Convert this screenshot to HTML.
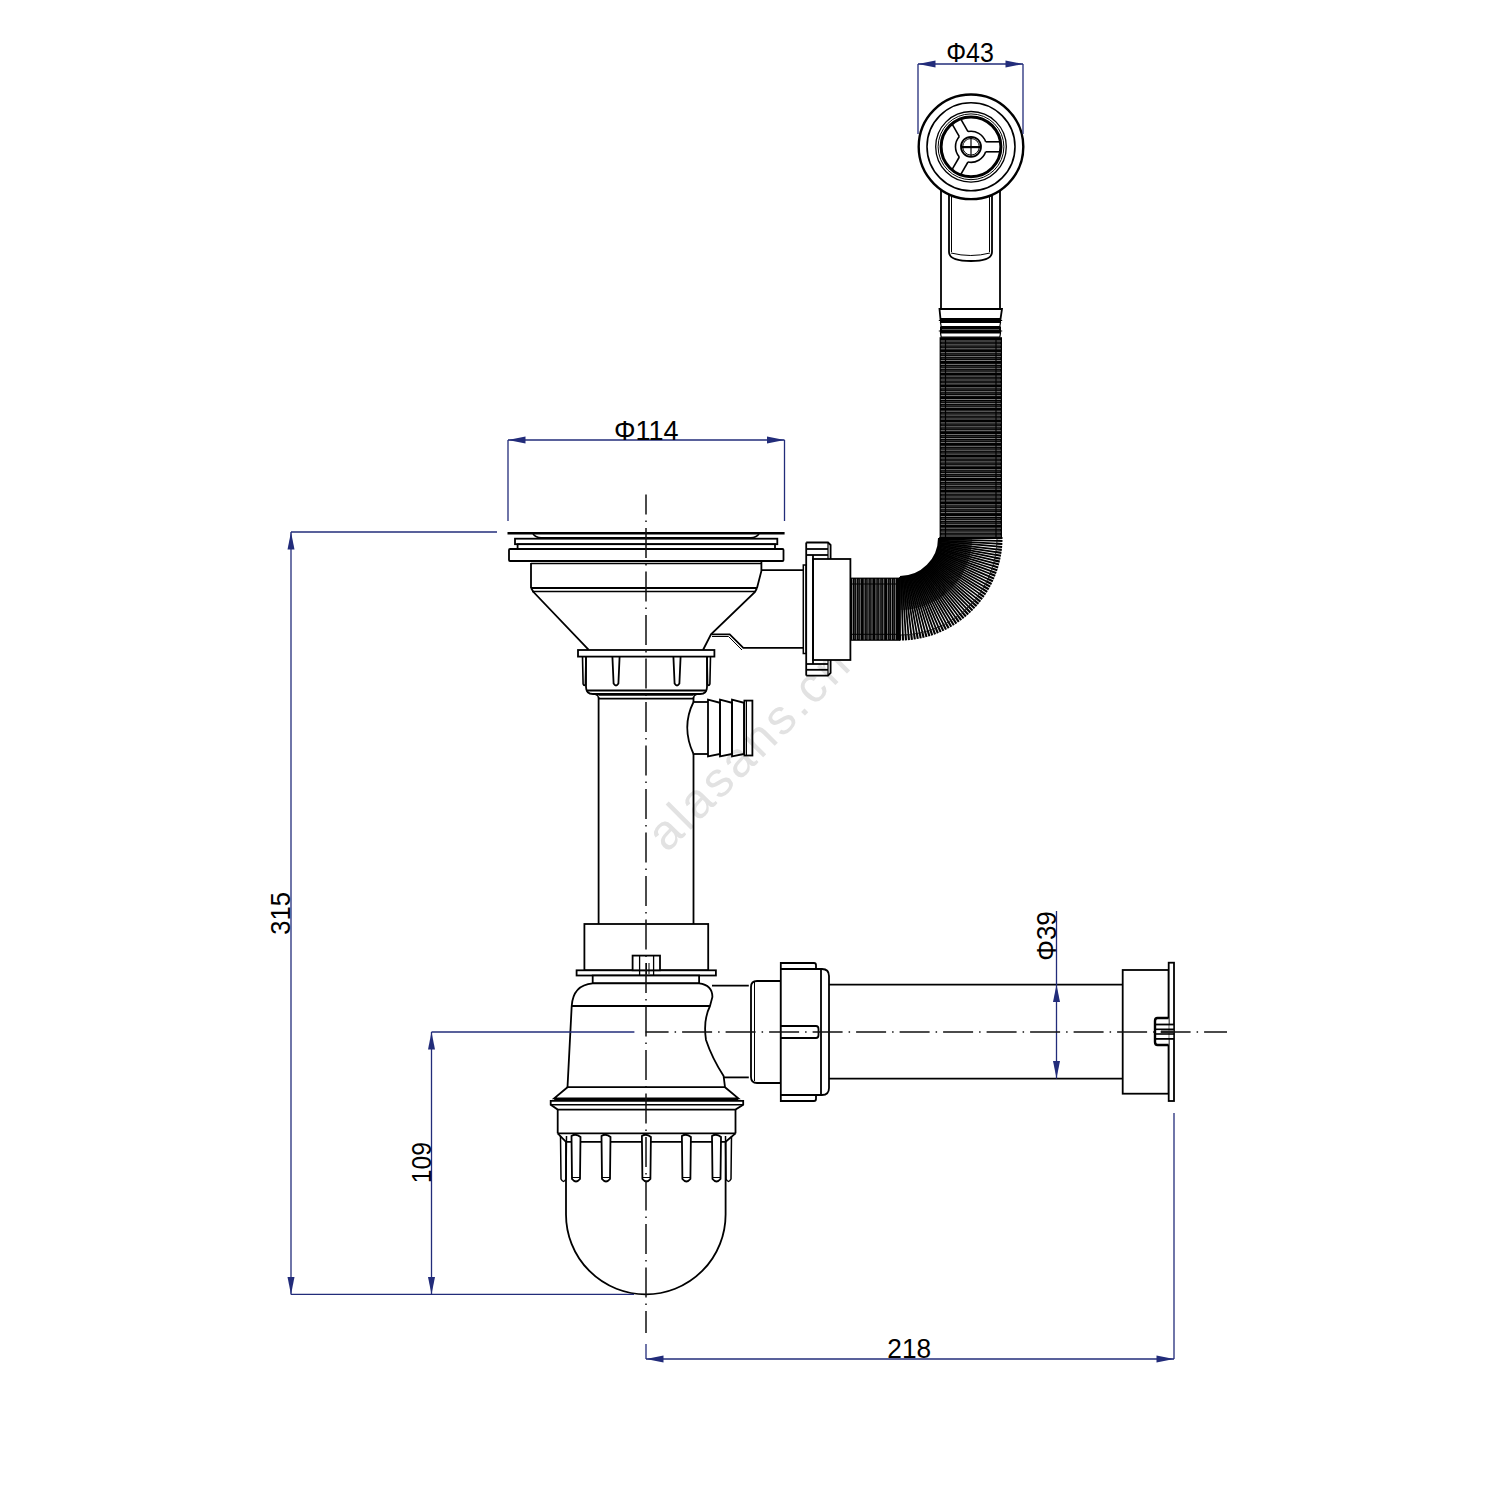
<!DOCTYPE html>
<html><head><meta charset="utf-8"><style>
html,body{margin:0;padding:0;background:#fff;}
svg{display:block;}
text{font-family:"Liberation Sans",sans-serif;}
</style></head><body>
<svg width="1500" height="1500" viewBox="0 0 1500 1500">
<rect width="1500" height="1500" fill="#fff"/>
<text x="0" y="0" font-size="49" fill="#e2e2e2" transform="translate(667,853.5) rotate(-45)" letter-spacing="3.1">alasans.cn</text>
<line x1="941.00" y1="150.00" x2="941.00" y2="309.00" stroke="#000" stroke-width="1.8" />
<line x1="1000.00" y1="150.00" x2="1000.00" y2="309.00" stroke="#000" stroke-width="1.8" />
<path d="M949,190 L949,252 Q949,261 971,261 Q992,261 992,252 L992,190" stroke="#000" stroke-width="1.8" fill="none" />
<line x1="951.50" y1="190.00" x2="951.50" y2="252.00" stroke="#000" stroke-width="1.0" />
<line x1="989.50" y1="190.00" x2="989.50" y2="252.00" stroke="#000" stroke-width="1.0" />
<path d="M951,253 Q971,258 990,253" stroke="#000" stroke-width="1.0" fill="none" />
<circle cx="971" cy="146.8" r="52.3" stroke="#000" stroke-width="2.4" fill="#fff"/>
<circle cx="971" cy="146.8" r="44" stroke="#000" stroke-width="1.6" fill="none"/>
<circle cx="971" cy="146.8" r="35.3" stroke="#000" stroke-width="1.3" fill="none"/>
<circle cx="971" cy="146.8" r="32.9" stroke="#000" stroke-width="1.0" fill="none"/>
<circle cx="971" cy="146.8" r="29.9" stroke="#000" stroke-width="3.0" fill="none"/>
<line x1="985.67" y1="141.80" x2="1000.00" y2="141.80" stroke="#000" stroke-width="1.6" />
<line x1="985.67" y1="151.80" x2="1000.00" y2="151.80" stroke="#000" stroke-width="1.6" />
<line x1="967.99" y1="162.01" x2="960.83" y2="174.41" stroke="#000" stroke-width="1.6" />
<line x1="959.33" y1="157.01" x2="952.17" y2="169.41" stroke="#000" stroke-width="1.6" />
<line x1="959.33" y1="136.59" x2="952.17" y2="124.19" stroke="#000" stroke-width="1.6" />
<line x1="967.99" y1="131.59" x2="960.83" y2="119.19" stroke="#000" stroke-width="1.6" />
<path d="M985.67,151.80 A15.5,15.5 0 0 1 967.99,162.01" stroke="#000" stroke-width="1.6" fill="none" />
<path d="M959.33,157.01 A15.5,15.5 0 0 1 959.33,136.59" stroke="#000" stroke-width="1.6" fill="none" />
<path d="M967.99,131.59 A15.5,15.5 0 0 1 985.67,141.80" stroke="#000" stroke-width="1.6" fill="none" />
<circle cx="971" cy="146.8" r="10" stroke="#000" stroke-width="1.8" fill="none"/>
<circle cx="971" cy="146.8" r="8.3" stroke="#000" stroke-width="1.0" fill="none"/>
<line x1="961.00" y1="147.10" x2="981.00" y2="147.10" stroke="#000" stroke-width="2.2" />
<line x1="971.00" y1="136.80" x2="971.00" y2="156.80" stroke="#000" stroke-width="1.2" />
<path d="M939.5,309 L1002,309 L1000.5,319 L940.5,319 Z" stroke="#000" stroke-width="1.8" fill="none" />
<rect x="940.00" y="319.00" width="61.00" height="3.50" stroke="#000" stroke-width="0" fill="#000" rx="0"/>
<path d="M940.5,322.5 L1000.5,322.5 L999.8,326.5 L941.2,326.5 Z" stroke="#000" stroke-width="1.2" fill="none" />
<rect x="940.00" y="326.50" width="61.00" height="6.50" stroke="#000" stroke-width="0" fill="#000" rx="0"/>
<line x1="942.00" y1="329.60" x2="999.00" y2="329.60" stroke="#888" stroke-width="0.7" />
<path d="M940.5,333 L1000.5,333 L999.8,337.2 L941.2,337.2 Z" stroke="#000" stroke-width="1.2" fill="none" />
<line x1="938.80" y1="320.50" x2="1002.20" y2="320.50" stroke="#000" stroke-width="1.2" />
<line x1="938.80" y1="331.00" x2="1002.20" y2="331.00" stroke="#000" stroke-width="1.2" />
<rect x="939.60" y="337.20" width="62.40" height="200.80" stroke="#000" stroke-width="0" fill="#000" rx="0"/>
<line x1="940.80" y1="341.00" x2="1000.80" y2="341.00" stroke="#e0e0e0" stroke-width="0.55" />
<line x1="941.40" y1="343.00" x2="1000.20" y2="343.00" stroke="#6a6a6a" stroke-width="0.45" />
<line x1="940.80" y1="344.90" x2="1000.80" y2="344.90" stroke="#e0e0e0" stroke-width="0.55" />
<line x1="941.40" y1="346.90" x2="1000.20" y2="346.90" stroke="#6a6a6a" stroke-width="0.45" />
<line x1="940.80" y1="348.80" x2="1000.80" y2="348.80" stroke="#e0e0e0" stroke-width="0.55" />
<line x1="940.80" y1="352.70" x2="1000.80" y2="352.70" stroke="#e0e0e0" stroke-width="0.55" />
<line x1="941.40" y1="354.70" x2="1000.20" y2="354.70" stroke="#6a6a6a" stroke-width="0.45" />
<line x1="940.80" y1="356.60" x2="1000.80" y2="356.60" stroke="#e0e0e0" stroke-width="0.55" />
<line x1="941.40" y1="358.60" x2="1000.20" y2="358.60" stroke="#6a6a6a" stroke-width="0.45" />
<line x1="940.80" y1="360.50" x2="1000.80" y2="360.50" stroke="#e0e0e0" stroke-width="0.55" />
<line x1="940.80" y1="364.40" x2="1000.80" y2="364.40" stroke="#e0e0e0" stroke-width="0.55" />
<line x1="941.40" y1="366.40" x2="1000.20" y2="366.40" stroke="#6a6a6a" stroke-width="0.45" />
<line x1="940.80" y1="368.30" x2="1000.80" y2="368.30" stroke="#e0e0e0" stroke-width="0.55" />
<line x1="941.40" y1="370.30" x2="1000.20" y2="370.30" stroke="#6a6a6a" stroke-width="0.45" />
<line x1="940.80" y1="372.20" x2="1000.80" y2="372.20" stroke="#e0e0e0" stroke-width="0.55" />
<line x1="940.80" y1="376.10" x2="1000.80" y2="376.10" stroke="#e0e0e0" stroke-width="0.55" />
<line x1="941.40" y1="378.10" x2="1000.20" y2="378.10" stroke="#6a6a6a" stroke-width="0.45" />
<line x1="940.80" y1="380.00" x2="1000.80" y2="380.00" stroke="#e0e0e0" stroke-width="0.55" />
<line x1="941.40" y1="382.00" x2="1000.20" y2="382.00" stroke="#6a6a6a" stroke-width="0.45" />
<line x1="940.80" y1="383.90" x2="1000.80" y2="383.90" stroke="#e0e0e0" stroke-width="0.55" />
<line x1="940.80" y1="387.80" x2="1000.80" y2="387.80" stroke="#e0e0e0" stroke-width="0.55" />
<line x1="941.40" y1="389.80" x2="1000.20" y2="389.80" stroke="#6a6a6a" stroke-width="0.45" />
<line x1="940.80" y1="391.70" x2="1000.80" y2="391.70" stroke="#e0e0e0" stroke-width="0.55" />
<line x1="941.40" y1="393.70" x2="1000.20" y2="393.70" stroke="#6a6a6a" stroke-width="0.45" />
<line x1="940.80" y1="395.60" x2="1000.80" y2="395.60" stroke="#e0e0e0" stroke-width="0.55" />
<line x1="940.80" y1="399.50" x2="1000.80" y2="399.50" stroke="#e0e0e0" stroke-width="0.55" />
<line x1="941.40" y1="401.50" x2="1000.20" y2="401.50" stroke="#6a6a6a" stroke-width="0.45" />
<line x1="940.80" y1="403.40" x2="1000.80" y2="403.40" stroke="#e0e0e0" stroke-width="0.55" />
<line x1="941.40" y1="405.40" x2="1000.20" y2="405.40" stroke="#6a6a6a" stroke-width="0.45" />
<line x1="940.80" y1="407.30" x2="1000.80" y2="407.30" stroke="#e0e0e0" stroke-width="0.55" />
<line x1="940.80" y1="411.20" x2="1000.80" y2="411.20" stroke="#e0e0e0" stroke-width="0.55" />
<line x1="941.40" y1="413.20" x2="1000.20" y2="413.20" stroke="#6a6a6a" stroke-width="0.45" />
<line x1="940.80" y1="415.10" x2="1000.80" y2="415.10" stroke="#e0e0e0" stroke-width="0.55" />
<line x1="941.40" y1="417.10" x2="1000.20" y2="417.10" stroke="#6a6a6a" stroke-width="0.45" />
<line x1="940.80" y1="419.00" x2="1000.80" y2="419.00" stroke="#e0e0e0" stroke-width="0.55" />
<line x1="940.80" y1="422.90" x2="1000.80" y2="422.90" stroke="#e0e0e0" stroke-width="0.55" />
<line x1="941.40" y1="424.90" x2="1000.20" y2="424.90" stroke="#6a6a6a" stroke-width="0.45" />
<line x1="940.80" y1="426.80" x2="1000.80" y2="426.80" stroke="#e0e0e0" stroke-width="0.55" />
<line x1="941.40" y1="428.80" x2="1000.20" y2="428.80" stroke="#6a6a6a" stroke-width="0.45" />
<line x1="940.80" y1="430.70" x2="1000.80" y2="430.70" stroke="#e0e0e0" stroke-width="0.55" />
<line x1="940.80" y1="434.60" x2="1000.80" y2="434.60" stroke="#e0e0e0" stroke-width="0.55" />
<line x1="941.40" y1="436.60" x2="1000.20" y2="436.60" stroke="#6a6a6a" stroke-width="0.45" />
<line x1="940.80" y1="438.50" x2="1000.80" y2="438.50" stroke="#e0e0e0" stroke-width="0.55" />
<line x1="941.40" y1="440.50" x2="1000.20" y2="440.50" stroke="#6a6a6a" stroke-width="0.45" />
<line x1="940.80" y1="442.40" x2="1000.80" y2="442.40" stroke="#e0e0e0" stroke-width="0.55" />
<line x1="940.80" y1="446.30" x2="1000.80" y2="446.30" stroke="#e0e0e0" stroke-width="0.55" />
<line x1="941.40" y1="448.30" x2="1000.20" y2="448.30" stroke="#6a6a6a" stroke-width="0.45" />
<line x1="940.80" y1="450.20" x2="1000.80" y2="450.20" stroke="#e0e0e0" stroke-width="0.55" />
<line x1="941.40" y1="452.20" x2="1000.20" y2="452.20" stroke="#6a6a6a" stroke-width="0.45" />
<line x1="940.80" y1="454.10" x2="1000.80" y2="454.10" stroke="#e0e0e0" stroke-width="0.55" />
<line x1="940.80" y1="458.00" x2="1000.80" y2="458.00" stroke="#e0e0e0" stroke-width="0.55" />
<line x1="941.40" y1="460.00" x2="1000.20" y2="460.00" stroke="#6a6a6a" stroke-width="0.45" />
<line x1="940.80" y1="461.90" x2="1000.80" y2="461.90" stroke="#e0e0e0" stroke-width="0.55" />
<line x1="941.40" y1="463.90" x2="1000.20" y2="463.90" stroke="#6a6a6a" stroke-width="0.45" />
<line x1="940.80" y1="465.80" x2="1000.80" y2="465.80" stroke="#e0e0e0" stroke-width="0.55" />
<line x1="940.80" y1="469.70" x2="1000.80" y2="469.70" stroke="#e0e0e0" stroke-width="0.55" />
<line x1="941.40" y1="471.70" x2="1000.20" y2="471.70" stroke="#6a6a6a" stroke-width="0.45" />
<line x1="940.80" y1="473.60" x2="1000.80" y2="473.60" stroke="#e0e0e0" stroke-width="0.55" />
<line x1="941.40" y1="475.60" x2="1000.20" y2="475.60" stroke="#6a6a6a" stroke-width="0.45" />
<line x1="940.80" y1="477.50" x2="1000.80" y2="477.50" stroke="#e0e0e0" stroke-width="0.55" />
<line x1="940.80" y1="481.40" x2="1000.80" y2="481.40" stroke="#e0e0e0" stroke-width="0.55" />
<line x1="941.40" y1="483.40" x2="1000.20" y2="483.40" stroke="#6a6a6a" stroke-width="0.45" />
<line x1="940.80" y1="485.30" x2="1000.80" y2="485.30" stroke="#e0e0e0" stroke-width="0.55" />
<line x1="941.40" y1="487.30" x2="1000.20" y2="487.30" stroke="#6a6a6a" stroke-width="0.45" />
<line x1="940.80" y1="489.20" x2="1000.80" y2="489.20" stroke="#e0e0e0" stroke-width="0.55" />
<line x1="940.80" y1="493.10" x2="1000.80" y2="493.10" stroke="#e0e0e0" stroke-width="0.55" />
<line x1="941.40" y1="495.10" x2="1000.20" y2="495.10" stroke="#6a6a6a" stroke-width="0.45" />
<line x1="940.80" y1="497.00" x2="1000.80" y2="497.00" stroke="#e0e0e0" stroke-width="0.55" />
<line x1="941.40" y1="499.00" x2="1000.20" y2="499.00" stroke="#6a6a6a" stroke-width="0.45" />
<line x1="940.80" y1="500.90" x2="1000.80" y2="500.90" stroke="#e0e0e0" stroke-width="0.55" />
<line x1="940.80" y1="504.80" x2="1000.80" y2="504.80" stroke="#e0e0e0" stroke-width="0.55" />
<line x1="941.40" y1="506.80" x2="1000.20" y2="506.80" stroke="#6a6a6a" stroke-width="0.45" />
<line x1="940.80" y1="508.70" x2="1000.80" y2="508.70" stroke="#e0e0e0" stroke-width="0.55" />
<line x1="941.40" y1="510.70" x2="1000.20" y2="510.70" stroke="#6a6a6a" stroke-width="0.45" />
<line x1="940.80" y1="512.60" x2="1000.80" y2="512.60" stroke="#e0e0e0" stroke-width="0.55" />
<line x1="940.80" y1="516.50" x2="1000.80" y2="516.50" stroke="#e0e0e0" stroke-width="0.55" />
<line x1="941.40" y1="518.50" x2="1000.20" y2="518.50" stroke="#6a6a6a" stroke-width="0.45" />
<line x1="940.80" y1="520.40" x2="1000.80" y2="520.40" stroke="#e0e0e0" stroke-width="0.55" />
<line x1="941.40" y1="522.40" x2="1000.20" y2="522.40" stroke="#6a6a6a" stroke-width="0.45" />
<line x1="940.80" y1="524.30" x2="1000.80" y2="524.30" stroke="#e0e0e0" stroke-width="0.55" />
<line x1="940.80" y1="528.20" x2="1000.80" y2="528.20" stroke="#e0e0e0" stroke-width="0.55" />
<line x1="941.40" y1="530.20" x2="1000.20" y2="530.20" stroke="#6a6a6a" stroke-width="0.45" />
<line x1="940.80" y1="532.10" x2="1000.80" y2="532.10" stroke="#e0e0e0" stroke-width="0.55" />
<line x1="941.40" y1="534.10" x2="1000.20" y2="534.10" stroke="#6a6a6a" stroke-width="0.45" />
<line x1="940.80" y1="536.00" x2="1000.80" y2="536.00" stroke="#e0e0e0" stroke-width="0.55" />
<line x1="945.50" y1="338.00" x2="945.50" y2="538.00" stroke="#000" stroke-width="1.2" />
<line x1="996.00" y1="338.00" x2="996.00" y2="538.00" stroke="#000" stroke-width="1.2" />
<line x1="939.00" y1="538.00" x2="997.00" y2="538.00" stroke="#000" stroke-width="1.75"/>
<line x1="997.00" y1="538.00" x2="1002.50" y2="538.00" stroke="#000" stroke-width="2.1"/>
<line x1="939.00" y1="538.57" x2="971.99" y2="539.05" stroke="#000" stroke-width="0.8"/>
<line x1="938.98" y1="539.13" x2="996.96" y2="540.82" stroke="#000" stroke-width="1.75"/>
<line x1="996.96" y1="540.82" x2="1002.46" y2="540.98" stroke="#000" stroke-width="2.1"/>
<line x1="938.96" y1="539.70" x2="971.93" y2="541.14" stroke="#000" stroke-width="0.8"/>
<line x1="938.93" y1="540.27" x2="996.84" y2="543.64" stroke="#000" stroke-width="1.75"/>
<line x1="996.84" y1="543.64" x2="1002.33" y2="543.96" stroke="#000" stroke-width="2.1"/>
<line x1="938.90" y1="540.83" x2="971.81" y2="543.23" stroke="#000" stroke-width="0.8"/>
<line x1="938.85" y1="541.40" x2="996.63" y2="546.45" stroke="#000" stroke-width="1.75"/>
<line x1="996.63" y1="546.45" x2="1002.11" y2="546.93" stroke="#000" stroke-width="2.1"/>
<line x1="938.80" y1="541.96" x2="971.63" y2="545.32" stroke="#000" stroke-width="0.8"/>
<line x1="938.74" y1="542.53" x2="996.34" y2="549.26" stroke="#000" stroke-width="1.75"/>
<line x1="996.34" y1="549.26" x2="1001.81" y2="549.90" stroke="#000" stroke-width="2.1"/>
<line x1="938.67" y1="543.09" x2="971.38" y2="547.40" stroke="#000" stroke-width="0.8"/>
<line x1="938.59" y1="543.65" x2="995.98" y2="552.06" stroke="#000" stroke-width="1.75"/>
<line x1="995.98" y1="552.06" x2="1001.42" y2="552.86" stroke="#000" stroke-width="2.1"/>
<line x1="938.50" y1="544.21" x2="971.08" y2="549.47" stroke="#000" stroke-width="0.8"/>
<line x1="938.41" y1="544.77" x2="995.53" y2="554.84" stroke="#000" stroke-width="1.75"/>
<line x1="995.53" y1="554.84" x2="1000.94" y2="555.80" stroke="#000" stroke-width="2.1"/>
<line x1="938.30" y1="545.33" x2="970.72" y2="551.53" stroke="#000" stroke-width="0.8"/>
<line x1="938.19" y1="545.89" x2="995.00" y2="557.62" stroke="#000" stroke-width="1.75"/>
<line x1="995.00" y1="557.62" x2="1000.38" y2="558.73" stroke="#000" stroke-width="2.1"/>
<line x1="938.08" y1="546.44" x2="970.29" y2="553.58" stroke="#000" stroke-width="0.8"/>
<line x1="937.95" y1="546.99" x2="994.39" y2="560.37" stroke="#000" stroke-width="1.75"/>
<line x1="994.39" y1="560.37" x2="999.74" y2="561.64" stroke="#000" stroke-width="2.1"/>
<line x1="937.81" y1="547.54" x2="969.81" y2="555.62" stroke="#000" stroke-width="0.8"/>
<line x1="937.67" y1="548.09" x2="993.69" y2="563.11" stroke="#000" stroke-width="1.75"/>
<line x1="993.69" y1="563.11" x2="999.01" y2="564.53" stroke="#000" stroke-width="2.1"/>
<line x1="937.52" y1="548.64" x2="969.27" y2="557.64" stroke="#000" stroke-width="0.8"/>
<line x1="937.36" y1="549.19" x2="992.92" y2="565.82" stroke="#000" stroke-width="1.75"/>
<line x1="992.92" y1="565.82" x2="998.19" y2="567.40" stroke="#000" stroke-width="2.1"/>
<line x1="937.19" y1="549.73" x2="968.67" y2="559.65" stroke="#000" stroke-width="0.8"/>
<line x1="937.02" y1="550.27" x2="992.08" y2="568.51" stroke="#000" stroke-width="1.75"/>
<line x1="992.08" y1="568.51" x2="997.30" y2="570.24" stroke="#000" stroke-width="2.1"/>
<line x1="936.84" y1="550.80" x2="968.01" y2="561.64" stroke="#000" stroke-width="0.8"/>
<line x1="936.65" y1="551.34" x2="991.15" y2="571.18" stroke="#000" stroke-width="1.75"/>
<line x1="991.15" y1="571.18" x2="996.32" y2="573.06" stroke="#000" stroke-width="2.1"/>
<line x1="936.45" y1="551.87" x2="967.29" y2="563.61" stroke="#000" stroke-width="0.8"/>
<line x1="936.24" y1="552.40" x2="990.15" y2="573.81" stroke="#000" stroke-width="1.75"/>
<line x1="990.15" y1="573.81" x2="995.26" y2="575.84" stroke="#000" stroke-width="2.1"/>
<line x1="936.03" y1="552.92" x2="966.52" y2="565.55" stroke="#000" stroke-width="0.8"/>
<line x1="935.81" y1="553.45" x2="989.07" y2="576.42" stroke="#000" stroke-width="1.75"/>
<line x1="989.07" y1="576.42" x2="994.12" y2="578.60" stroke="#000" stroke-width="2.1"/>
<line x1="935.58" y1="553.97" x2="965.69" y2="567.48" stroke="#000" stroke-width="0.8"/>
<line x1="935.35" y1="554.48" x2="987.91" y2="578.99" stroke="#000" stroke-width="1.75"/>
<line x1="987.91" y1="578.99" x2="992.90" y2="581.32" stroke="#000" stroke-width="2.1"/>
<line x1="935.10" y1="554.99" x2="964.80" y2="569.37" stroke="#000" stroke-width="0.8"/>
<line x1="934.85" y1="555.50" x2="986.68" y2="581.53" stroke="#000" stroke-width="1.75"/>
<line x1="986.68" y1="581.53" x2="991.60" y2="584.00" stroke="#000" stroke-width="2.1"/>
<line x1="934.59" y1="556.01" x2="963.86" y2="571.25" stroke="#000" stroke-width="0.8"/>
<line x1="934.33" y1="556.51" x2="985.38" y2="584.04" stroke="#000" stroke-width="1.75"/>
<line x1="985.38" y1="584.04" x2="990.22" y2="586.65" stroke="#000" stroke-width="2.1"/>
<line x1="934.06" y1="557.01" x2="962.87" y2="573.09" stroke="#000" stroke-width="0.8"/>
<line x1="933.77" y1="557.50" x2="984.00" y2="586.50" stroke="#000" stroke-width="1.75"/>
<line x1="984.00" y1="586.50" x2="988.77" y2="589.25" stroke="#000" stroke-width="2.1"/>
<line x1="933.49" y1="557.99" x2="961.82" y2="574.90" stroke="#000" stroke-width="0.8"/>
<line x1="933.19" y1="558.47" x2="982.56" y2="588.92" stroke="#000" stroke-width="1.75"/>
<line x1="982.56" y1="588.92" x2="987.24" y2="591.81" stroke="#000" stroke-width="2.1"/>
<line x1="932.89" y1="558.95" x2="960.72" y2="576.69" stroke="#000" stroke-width="0.8"/>
<line x1="932.58" y1="559.43" x2="981.04" y2="591.30" stroke="#000" stroke-width="1.75"/>
<line x1="981.04" y1="591.30" x2="985.64" y2="594.32" stroke="#000" stroke-width="2.1"/>
<line x1="932.27" y1="559.90" x2="959.57" y2="578.44" stroke="#000" stroke-width="0.8"/>
<line x1="931.95" y1="560.37" x2="979.46" y2="593.64" stroke="#000" stroke-width="1.75"/>
<line x1="979.46" y1="593.64" x2="983.96" y2="596.79" stroke="#000" stroke-width="2.1"/>
<line x1="931.62" y1="560.83" x2="958.37" y2="580.15" stroke="#000" stroke-width="0.8"/>
<line x1="931.28" y1="561.29" x2="977.81" y2="595.92" stroke="#000" stroke-width="1.75"/>
<line x1="977.81" y1="595.92" x2="982.22" y2="599.21" stroke="#000" stroke-width="2.1"/>
<line x1="930.94" y1="561.74" x2="957.12" y2="581.83" stroke="#000" stroke-width="0.8"/>
<line x1="930.59" y1="562.19" x2="976.09" y2="598.16" stroke="#000" stroke-width="1.75"/>
<line x1="976.09" y1="598.16" x2="980.40" y2="601.57" stroke="#000" stroke-width="2.1"/>
<line x1="930.24" y1="562.63" x2="955.82" y2="583.47" stroke="#000" stroke-width="0.8"/>
<line x1="929.88" y1="563.07" x2="974.31" y2="600.35" stroke="#000" stroke-width="1.75"/>
<line x1="974.31" y1="600.35" x2="978.52" y2="603.89" stroke="#000" stroke-width="2.1"/>
<line x1="929.51" y1="563.50" x2="954.48" y2="585.08" stroke="#000" stroke-width="0.8"/>
<line x1="929.13" y1="563.93" x2="972.46" y2="602.49" stroke="#000" stroke-width="1.75"/>
<line x1="972.46" y1="602.49" x2="976.57" y2="606.14" stroke="#000" stroke-width="2.1"/>
<line x1="928.75" y1="564.35" x2="953.08" y2="586.64" stroke="#000" stroke-width="0.8"/>
<line x1="928.37" y1="564.76" x2="970.56" y2="604.57" stroke="#000" stroke-width="1.75"/>
<line x1="970.56" y1="604.57" x2="974.56" y2="608.34" stroke="#000" stroke-width="2.1"/>
<line x1="927.98" y1="565.17" x2="951.65" y2="588.17" stroke="#000" stroke-width="0.8"/>
<line x1="927.58" y1="565.58" x2="968.59" y2="606.59" stroke="#000" stroke-width="1.75"/>
<line x1="968.59" y1="606.59" x2="972.48" y2="610.48" stroke="#000" stroke-width="2.1"/>
<line x1="927.17" y1="565.98" x2="950.17" y2="589.65" stroke="#000" stroke-width="0.8"/>
<line x1="926.76" y1="566.37" x2="966.57" y2="608.56" stroke="#000" stroke-width="1.75"/>
<line x1="966.57" y1="608.56" x2="970.34" y2="612.56" stroke="#000" stroke-width="2.1"/>
<line x1="926.35" y1="566.75" x2="948.64" y2="591.08" stroke="#000" stroke-width="0.8"/>
<line x1="925.93" y1="567.13" x2="964.49" y2="610.46" stroke="#000" stroke-width="1.75"/>
<line x1="964.49" y1="610.46" x2="968.14" y2="614.57" stroke="#000" stroke-width="2.1"/>
<line x1="925.50" y1="567.51" x2="947.08" y2="592.48" stroke="#000" stroke-width="0.8"/>
<line x1="925.07" y1="567.88" x2="962.35" y2="612.31" stroke="#000" stroke-width="1.75"/>
<line x1="962.35" y1="612.31" x2="965.89" y2="616.52" stroke="#000" stroke-width="2.1"/>
<line x1="924.63" y1="568.24" x2="945.47" y2="593.82" stroke="#000" stroke-width="0.8"/>
<line x1="924.19" y1="568.59" x2="960.16" y2="614.09" stroke="#000" stroke-width="1.75"/>
<line x1="960.16" y1="614.09" x2="963.57" y2="618.40" stroke="#000" stroke-width="2.1"/>
<line x1="923.74" y1="568.94" x2="943.83" y2="595.12" stroke="#000" stroke-width="0.8"/>
<line x1="923.29" y1="569.28" x2="957.92" y2="615.81" stroke="#000" stroke-width="1.75"/>
<line x1="957.92" y1="615.81" x2="961.21" y2="620.22" stroke="#000" stroke-width="2.1"/>
<line x1="922.83" y1="569.62" x2="942.15" y2="596.37" stroke="#000" stroke-width="0.8"/>
<line x1="922.37" y1="569.95" x2="955.64" y2="617.46" stroke="#000" stroke-width="1.75"/>
<line x1="955.64" y1="617.46" x2="958.79" y2="621.96" stroke="#000" stroke-width="2.1"/>
<line x1="921.90" y1="570.27" x2="940.44" y2="597.57" stroke="#000" stroke-width="0.8"/>
<line x1="921.43" y1="570.58" x2="953.30" y2="619.04" stroke="#000" stroke-width="1.75"/>
<line x1="953.30" y1="619.04" x2="956.32" y2="623.64" stroke="#000" stroke-width="2.1"/>
<line x1="920.95" y1="570.89" x2="938.69" y2="598.72" stroke="#000" stroke-width="0.8"/>
<line x1="920.47" y1="571.19" x2="950.92" y2="620.56" stroke="#000" stroke-width="1.75"/>
<line x1="950.92" y1="620.56" x2="953.81" y2="625.24" stroke="#000" stroke-width="2.1"/>
<line x1="919.99" y1="571.49" x2="936.90" y2="599.82" stroke="#000" stroke-width="0.8"/>
<line x1="919.50" y1="571.77" x2="948.50" y2="622.00" stroke="#000" stroke-width="1.75"/>
<line x1="948.50" y1="622.00" x2="951.25" y2="626.77" stroke="#000" stroke-width="2.1"/>
<line x1="919.01" y1="572.06" x2="935.09" y2="600.87" stroke="#000" stroke-width="0.8"/>
<line x1="918.51" y1="572.33" x2="946.04" y2="623.38" stroke="#000" stroke-width="1.75"/>
<line x1="946.04" y1="623.38" x2="948.65" y2="628.22" stroke="#000" stroke-width="2.1"/>
<line x1="918.01" y1="572.59" x2="933.25" y2="601.86" stroke="#000" stroke-width="0.8"/>
<line x1="917.50" y1="572.85" x2="943.53" y2="624.68" stroke="#000" stroke-width="1.75"/>
<line x1="943.53" y1="624.68" x2="946.00" y2="629.60" stroke="#000" stroke-width="2.1"/>
<line x1="916.99" y1="573.10" x2="931.37" y2="602.80" stroke="#000" stroke-width="0.8"/>
<line x1="916.48" y1="573.35" x2="940.99" y2="625.91" stroke="#000" stroke-width="1.75"/>
<line x1="940.99" y1="625.91" x2="943.32" y2="630.90" stroke="#000" stroke-width="2.1"/>
<line x1="915.97" y1="573.58" x2="929.48" y2="603.69" stroke="#000" stroke-width="0.8"/>
<line x1="915.45" y1="573.81" x2="938.42" y2="627.07" stroke="#000" stroke-width="1.75"/>
<line x1="938.42" y1="627.07" x2="940.60" y2="632.12" stroke="#000" stroke-width="2.1"/>
<line x1="914.92" y1="574.03" x2="927.55" y2="604.52" stroke="#000" stroke-width="0.8"/>
<line x1="914.40" y1="574.24" x2="935.81" y2="628.15" stroke="#000" stroke-width="1.75"/>
<line x1="935.81" y1="628.15" x2="937.84" y2="633.26" stroke="#000" stroke-width="2.1"/>
<line x1="913.87" y1="574.45" x2="925.61" y2="605.29" stroke="#000" stroke-width="0.8"/>
<line x1="913.34" y1="574.65" x2="933.18" y2="629.15" stroke="#000" stroke-width="1.75"/>
<line x1="933.18" y1="629.15" x2="935.06" y2="634.32" stroke="#000" stroke-width="2.1"/>
<line x1="912.80" y1="574.84" x2="923.64" y2="606.01" stroke="#000" stroke-width="0.8"/>
<line x1="912.27" y1="575.02" x2="930.51" y2="630.08" stroke="#000" stroke-width="1.75"/>
<line x1="930.51" y1="630.08" x2="932.24" y2="635.30" stroke="#000" stroke-width="2.1"/>
<line x1="911.73" y1="575.19" x2="921.65" y2="606.67" stroke="#000" stroke-width="0.8"/>
<line x1="911.19" y1="575.36" x2="927.82" y2="630.92" stroke="#000" stroke-width="1.75"/>
<line x1="927.82" y1="630.92" x2="929.40" y2="636.19" stroke="#000" stroke-width="2.1"/>
<line x1="910.64" y1="575.52" x2="919.64" y2="607.27" stroke="#000" stroke-width="0.8"/>
<line x1="910.09" y1="575.67" x2="925.11" y2="631.69" stroke="#000" stroke-width="1.75"/>
<line x1="925.11" y1="631.69" x2="926.53" y2="637.01" stroke="#000" stroke-width="2.1"/>
<line x1="909.54" y1="575.81" x2="917.62" y2="607.81" stroke="#000" stroke-width="0.8"/>
<line x1="908.99" y1="575.95" x2="922.37" y2="632.39" stroke="#000" stroke-width="1.75"/>
<line x1="922.37" y1="632.39" x2="923.64" y2="637.74" stroke="#000" stroke-width="2.1"/>
<line x1="908.44" y1="576.08" x2="915.58" y2="608.29" stroke="#000" stroke-width="0.8"/>
<line x1="907.89" y1="576.19" x2="919.62" y2="633.00" stroke="#000" stroke-width="1.75"/>
<line x1="919.62" y1="633.00" x2="920.73" y2="638.38" stroke="#000" stroke-width="2.1"/>
<line x1="907.33" y1="576.30" x2="913.53" y2="608.72" stroke="#000" stroke-width="0.8"/>
<line x1="906.77" y1="576.41" x2="916.84" y2="633.53" stroke="#000" stroke-width="1.75"/>
<line x1="916.84" y1="633.53" x2="917.80" y2="638.94" stroke="#000" stroke-width="2.1"/>
<line x1="906.21" y1="576.50" x2="911.47" y2="609.08" stroke="#000" stroke-width="0.8"/>
<line x1="905.65" y1="576.59" x2="914.06" y2="633.98" stroke="#000" stroke-width="1.75"/>
<line x1="914.06" y1="633.98" x2="914.86" y2="639.42" stroke="#000" stroke-width="2.1"/>
<line x1="905.09" y1="576.67" x2="909.40" y2="609.38" stroke="#000" stroke-width="0.8"/>
<line x1="904.53" y1="576.74" x2="911.26" y2="634.34" stroke="#000" stroke-width="1.75"/>
<line x1="911.26" y1="634.34" x2="911.90" y2="639.81" stroke="#000" stroke-width="2.1"/>
<line x1="903.96" y1="576.80" x2="907.32" y2="609.63" stroke="#000" stroke-width="0.8"/>
<line x1="903.40" y1="576.85" x2="908.45" y2="634.63" stroke="#000" stroke-width="1.75"/>
<line x1="908.45" y1="634.63" x2="908.93" y2="640.11" stroke="#000" stroke-width="2.1"/>
<line x1="902.83" y1="576.90" x2="905.23" y2="609.81" stroke="#000" stroke-width="0.8"/>
<line x1="902.27" y1="576.93" x2="905.64" y2="634.84" stroke="#000" stroke-width="1.75"/>
<line x1="905.64" y1="634.84" x2="905.96" y2="640.33" stroke="#000" stroke-width="2.1"/>
<line x1="901.70" y1="576.96" x2="903.14" y2="609.93" stroke="#000" stroke-width="0.8"/>
<line x1="901.13" y1="576.98" x2="902.82" y2="634.96" stroke="#000" stroke-width="1.75"/>
<line x1="902.82" y1="634.96" x2="902.98" y2="640.46" stroke="#000" stroke-width="2.1"/>
<line x1="900.57" y1="577.00" x2="901.05" y2="609.99" stroke="#000" stroke-width="0.8"/>
<line x1="900.00" y1="577.00" x2="900.00" y2="635.00" stroke="#000" stroke-width="1.75"/>
<line x1="900.00" y1="635.00" x2="900.00" y2="640.50" stroke="#000" stroke-width="2.1"/>
<path d="M900,577 A39,39 0 0 0 939,538" stroke="#000" stroke-width="2.0" fill="none" />
<path d="M997,538 A97,97 0 0 1 900,635" stroke="#000" stroke-width="0.8" fill="none" />
<rect x="850.00" y="577.60" width="50.00" height="63.20" stroke="#000" stroke-width="0" fill="#000" rx="0"/>
<line x1="852.50" y1="578.80" x2="852.50" y2="639.60" stroke="#e0e0e0" stroke-width="0.55" />
<line x1="854.50" y1="579.30" x2="854.50" y2="639.10" stroke="#6a6a6a" stroke-width="0.45" />
<line x1="856.40" y1="578.80" x2="856.40" y2="639.60" stroke="#e0e0e0" stroke-width="0.55" />
<line x1="858.40" y1="579.30" x2="858.40" y2="639.10" stroke="#6a6a6a" stroke-width="0.45" />
<line x1="860.30" y1="578.80" x2="860.30" y2="639.60" stroke="#e0e0e0" stroke-width="0.55" />
<line x1="864.20" y1="578.80" x2="864.20" y2="639.60" stroke="#e0e0e0" stroke-width="0.55" />
<line x1="866.20" y1="579.30" x2="866.20" y2="639.10" stroke="#6a6a6a" stroke-width="0.45" />
<line x1="868.10" y1="578.80" x2="868.10" y2="639.60" stroke="#e0e0e0" stroke-width="0.55" />
<line x1="870.10" y1="579.30" x2="870.10" y2="639.10" stroke="#6a6a6a" stroke-width="0.45" />
<line x1="872.00" y1="578.80" x2="872.00" y2="639.60" stroke="#e0e0e0" stroke-width="0.55" />
<line x1="875.90" y1="578.80" x2="875.90" y2="639.60" stroke="#e0e0e0" stroke-width="0.55" />
<line x1="877.90" y1="579.30" x2="877.90" y2="639.10" stroke="#6a6a6a" stroke-width="0.45" />
<line x1="879.80" y1="578.80" x2="879.80" y2="639.60" stroke="#e0e0e0" stroke-width="0.55" />
<line x1="881.80" y1="579.30" x2="881.80" y2="639.10" stroke="#6a6a6a" stroke-width="0.45" />
<line x1="883.70" y1="578.80" x2="883.70" y2="639.60" stroke="#e0e0e0" stroke-width="0.55" />
<line x1="887.60" y1="578.80" x2="887.60" y2="639.60" stroke="#e0e0e0" stroke-width="0.55" />
<line x1="889.60" y1="579.30" x2="889.60" y2="639.10" stroke="#6a6a6a" stroke-width="0.45" />
<line x1="891.50" y1="578.80" x2="891.50" y2="639.60" stroke="#e0e0e0" stroke-width="0.55" />
<line x1="893.50" y1="579.30" x2="893.50" y2="639.10" stroke="#6a6a6a" stroke-width="0.45" />
<line x1="895.40" y1="578.80" x2="895.40" y2="639.60" stroke="#e0e0e0" stroke-width="0.55" />
<line x1="850.00" y1="584.00" x2="900.00" y2="584.00" stroke="#000" stroke-width="1.0" />
<line x1="850.00" y1="634.30" x2="900.00" y2="634.30" stroke="#000" stroke-width="1.0" />
<rect x="813.00" y="559.00" width="37.40" height="101.00" stroke="#000" stroke-width="1.8" fill="#fff" rx="0"/>
<path d="M806.2,542.5 L828,542.5 L830.6,545 L830.6,559" stroke="#000" stroke-width="1.8" fill="none" />
<line x1="806.20" y1="549.00" x2="828.00" y2="549.00" stroke="#000" stroke-width="1.8" />
<line x1="806.20" y1="555.00" x2="828.00" y2="555.00" stroke="#000" stroke-width="1.8" />
<line x1="806.20" y1="542.50" x2="806.20" y2="675.60" stroke="#000" stroke-width="1.8" />
<line x1="813.00" y1="555.00" x2="813.00" y2="664.00" stroke="#000" stroke-width="1.8" />
<line x1="828.00" y1="542.50" x2="828.00" y2="559.00" stroke="#000" stroke-width="1.2" />
<path d="M806.2,675.6 L828,675.6 L830.6,673 L830.6,660" stroke="#000" stroke-width="1.8" fill="none" />
<line x1="806.20" y1="664.00" x2="828.00" y2="664.00" stroke="#000" stroke-width="1.8" />
<line x1="806.20" y1="669.80" x2="828.00" y2="669.80" stroke="#000" stroke-width="1.8" />
<line x1="828.00" y1="660.00" x2="828.00" y2="675.60" stroke="#000" stroke-width="1.2" />
<rect x="803.30" y="565.00" width="2.90" height="88.50" stroke="#000" stroke-width="1.5" fill="none" rx="0"/>
<line x1="761.40" y1="570.20" x2="803.30" y2="570.20" stroke="#000" stroke-width="1.8" />
<path d="M712,634.3 L729.7,634.3 L743.3,647.9 L803.3,647.9" stroke="#000" stroke-width="1.8" fill="none" />
<path d="M712,636.5 L728.5,636.5 L742,650" stroke="#000" stroke-width="1.0" fill="none" />
<line x1="507.50" y1="533.30" x2="784.60" y2="533.30" stroke="#000" stroke-width="2.6" />
<path d="M533,534 Q536,537.5 541,537.8 L751,537.8 Q756,537.5 759,534" stroke="#000" stroke-width="1.6" fill="none" />
<rect x="515.00" y="538.70" width="262.30" height="5.50" stroke="#000" stroke-width="1.8" fill="#fff" rx="0"/>
<rect x="517.60" y="544.20" width="257.40" height="4.80" stroke="#000" stroke-width="1.8" fill="#fff" rx="0"/>
<rect x="509.00" y="549.00" width="274.50" height="12.00" stroke="#000" stroke-width="1.8" fill="#fff" rx="1"/>
<line x1="531.00" y1="563.50" x2="761.40" y2="563.50" stroke="#000" stroke-width="1.4" />
<path d="M531,563 L531,588 M761.4,562 L761.4,571 L757,588" stroke="#000" stroke-width="1.8" fill="none" />
<line x1="531.00" y1="588.00" x2="757.00" y2="588.00" stroke="#000" stroke-width="1.8" />
<line x1="532.00" y1="591.50" x2="755.00" y2="591.50" stroke="#000" stroke-width="1.4" />
<path d="M531,588 L533.5,592 L588.5,649.6" stroke="#000" stroke-width="1.8" fill="none" />
<path d="M757,588 L755,592 L711,634.3 L703,650" stroke="#000" stroke-width="1.8" fill="none" />
<rect x="578.00" y="650.00" width="136.40" height="6.60" stroke="#000" stroke-width="1.8" fill="#fff" rx="0"/>
<path d="M586,656.6 L586,687 Q586,694 593,694 L700,694 Q707,694 707,687 L707,656.6" stroke="#000" stroke-width="1.8" fill="none" />
<line x1="586.00" y1="690.50" x2="707.00" y2="690.50" stroke="#000" stroke-width="1.8" />
<path d="M582.5,656.6 L583.1,684 Q584.25,687 585.4,684 L586,656.6" stroke="#000" stroke-width="1.6" fill="none" />
<path d="M707,656.6 L707.6,684 Q708.75,687 709.9,684 L710.5,656.6" stroke="#000" stroke-width="1.6" fill="none" />
<path d="M612.4,656.6 L613.6,683.5 Q616,687.5 618.4,683.5 L619.6,656.6" stroke="#000" stroke-width="1.8" fill="none" />
<path d="M673.4,656.6 L674.6,683.5 Q677,687.5 679.4,683.5 L680.6,656.6" stroke="#000" stroke-width="1.8" fill="none" />
<path d="M595.5,694.5 Q598,695 598.6,697.5 M696.5,694.5 Q694,695 693.5,697.5" stroke="#000" stroke-width="1.4" fill="none" />
<line x1="598.60" y1="695.20" x2="693.50" y2="695.20" stroke="#000" stroke-width="1.1" />
<line x1="598.60" y1="698.60" x2="693.50" y2="698.60" stroke="#000" stroke-width="1.6" />
<line x1="598.60" y1="697.00" x2="598.60" y2="924.00" stroke="#000" stroke-width="1.8" />
<line x1="693.50" y1="697.00" x2="693.50" y2="702.00" stroke="#000" stroke-width="1.8" />
<line x1="693.50" y1="754.00" x2="693.50" y2="924.00" stroke="#000" stroke-width="1.8" />
<path d="M693.5,702 Q681,727 693.5,754" stroke="#000" stroke-width="1.8" fill="none" />
<line x1="693.50" y1="702.00" x2="708.00" y2="702.00" stroke="#000" stroke-width="1.8" />
<line x1="693.50" y1="754.00" x2="708.00" y2="754.00" stroke="#000" stroke-width="1.8" />
<path d="M708,699.6 L720,702.8 L720,754 L708,756.4 Z" stroke="#000" stroke-width="1.8" fill="none" />
<path d="M720,699.6 L732,702.8 L732,754 L720,756.4 Z" stroke="#000" stroke-width="1.8" fill="none" />
<path d="M732,699.6 L744,702.8 L744,754 L732,756.4 Z" stroke="#000" stroke-width="1.8" fill="none" />
<rect x="744.40" y="700.60" width="8.00" height="54.90" stroke="#000" stroke-width="1.8" fill="none" rx="0"/>
<line x1="746.50" y1="700.60" x2="746.50" y2="755.50" stroke="#000" stroke-width="1.0" />
<rect x="584.40" y="924.00" width="123.80" height="46.30" stroke="#000" stroke-width="1.8" fill="#fff" rx="0"/>
<rect x="576.60" y="970.30" width="139.30" height="5.20" stroke="#000" stroke-width="1.8" fill="#fff" rx="0"/>
<rect x="632.60" y="955.60" width="27.40" height="14.70" stroke="#000" stroke-width="1.8" fill="#fff" rx="0"/>
<line x1="639.60" y1="955.60" x2="639.60" y2="975.00" stroke="#000" stroke-width="1.3" />
<line x1="653.60" y1="955.60" x2="653.60" y2="975.00" stroke="#000" stroke-width="1.3" />
<line x1="646.50" y1="963.00" x2="646.50" y2="974.00" stroke="#000" stroke-width="1.0" />
<line x1="649.00" y1="963.00" x2="649.00" y2="974.00" stroke="#000" stroke-width="1.0" />
<rect x="592.70" y="975.50" width="106.40" height="7.80" stroke="#000" stroke-width="1.8" fill="#fff" rx="0"/>
<path d="M592.7,983.3 L699.1,983.3 Q712.5,985 712.4,997 L710,1006 Q703,1020 706,1040 Q712,1058 723.6,1076 L725,1087.2 L567.5,1087.2 L571.7,1006 Q573,985 592.7,983.3 Z" stroke="#000" stroke-width="1.8" fill="#fff" />
<line x1="571.70" y1="1006.00" x2="710.00" y2="1006.00" stroke="#000" stroke-width="1.8" />
<path d="M567.5,1087.2 L554.2,1098.4 L738.3,1098.4 L725,1087.2" stroke="#000" stroke-width="1.8" fill="none" />
<line x1="554.20" y1="1099.80" x2="738.30" y2="1099.80" stroke="#000" stroke-width="2.4" />
<path d="M550.7,1100.8 L743.2,1100.8 L743.2,1104.7 L735.5,1109.6 L557.7,1109.6 L550.7,1104.7 Z" stroke="#000" stroke-width="1.8" fill="#fff" />
<line x1="550.70" y1="1104.70" x2="743.20" y2="1104.70" stroke="#000" stroke-width="1.4" />
<line x1="557.70" y1="1109.60" x2="557.70" y2="1133.40" stroke="#000" stroke-width="1.8" />
<line x1="735.50" y1="1109.60" x2="735.50" y2="1133.40" stroke="#000" stroke-width="1.8" />
<line x1="557.70" y1="1133.40" x2="735.50" y2="1133.40" stroke="#000" stroke-width="1.8" />
<path d="M557.7,1133.4 L566,1141.8 L725.6,1141.8 L735.5,1133.4" stroke="#000" stroke-width="1.8" fill="none" />
<path d="M571.5,1136 Q576,1133 580.5,1137 L580,1179 Q576,1184 572,1179 Z" stroke="#000" stroke-width="1.8" fill="#fff" />
<line x1="572.00" y1="1177.50" x2="580.00" y2="1177.50" stroke="#000" stroke-width="1.0" />
<path d="M601.5,1136 Q606,1133 610.5,1137 L610,1179 Q606,1184 602,1179 Z" stroke="#000" stroke-width="1.8" fill="#fff" />
<line x1="602.00" y1="1177.50" x2="610.00" y2="1177.50" stroke="#000" stroke-width="1.0" />
<path d="M641.9,1136 Q646.4,1133 650.9,1137 L650.4,1179 Q646.4,1184 642.4,1179 Z" stroke="#000" stroke-width="1.8" fill="#fff" />
<line x1="642.40" y1="1177.50" x2="650.40" y2="1177.50" stroke="#000" stroke-width="1.0" />
<path d="M681.9,1136 Q686.4,1133 690.9,1137 L690.4,1179 Q686.4,1184 682.4,1179 Z" stroke="#000" stroke-width="1.8" fill="#fff" />
<line x1="682.40" y1="1177.50" x2="690.40" y2="1177.50" stroke="#000" stroke-width="1.0" />
<path d="M712.0,1136 Q716.5,1133 721.0,1137 L720.5,1179 Q716.5,1184 712.5,1179 Z" stroke="#000" stroke-width="1.8" fill="#fff" />
<line x1="712.50" y1="1177.50" x2="720.50" y2="1177.50" stroke="#000" stroke-width="1.0" />
<path d="M560.5,1136 L561.0,1179 Q563.5,1184 566.0,1179 L566.5,1136" stroke="#000" stroke-width="1.5" fill="none" />
<path d="M725.5,1136 L726.0,1179 Q728.5,1184 731.0,1179 L731.5,1136" stroke="#000" stroke-width="1.5" fill="none" />
<path d="M566,1141.8 L566,1214.4 A79.8,80 0 0 0 725.6,1214.4 L725.6,1141.8" stroke="#000" stroke-width="1.8" fill="none" />
<line x1="712.00" y1="985.70" x2="748.80" y2="985.70" stroke="#000" stroke-width="1.8" />
<line x1="723.60" y1="1077.40" x2="748.80" y2="1077.40" stroke="#000" stroke-width="1.8" />
<path d="M757,981 Q751,981 751,987 L751,1077 Q751,1083 757,1083 L780.8,1083 L780.8,981 Z" stroke="#000" stroke-width="1.8" fill="#fff" />
<line x1="754.50" y1="982.00" x2="754.50" y2="1081.00" stroke="#000" stroke-width="1.0" />
<path d="M780.8,963 L814,963 Q816,963 816,965 L816,969 L822,969 Q829,969 829,976 L829,1088 Q829,1095 822,1095 L816,1095 L816,1099 Q816,1101 814,1101 L780.8,1101 Z" stroke="#000" stroke-width="1.8" fill="#fff" />
<line x1="780.80" y1="969.00" x2="816.00" y2="969.00" stroke="#000" stroke-width="1.8" />
<line x1="780.80" y1="1095.00" x2="816.00" y2="1095.00" stroke="#000" stroke-width="1.8" />
<line x1="821.00" y1="969.00" x2="821.00" y2="1095.00" stroke="#000" stroke-width="1.8" />
<path d="M780.8,1026 L816,1026 Q818.5,1026 818.5,1029 L818.5,1035 Q818.5,1038 816,1038 L780.8,1038" stroke="#000" stroke-width="1.8" fill="none" />
<line x1="829.00" y1="984.60" x2="1122.70" y2="984.60" stroke="#000" stroke-width="1.8" />
<line x1="829.00" y1="1078.60" x2="1122.70" y2="1078.60" stroke="#000" stroke-width="1.8" />
<rect x="1122.70" y="970.00" width="46.00" height="123.70" stroke="#000" stroke-width="1.8" fill="#fff" rx="0"/>
<rect x="1168.70" y="962.70" width="5.30" height="138.30" stroke="#000" stroke-width="1.8" fill="#fff" rx="0"/>
<rect x="1169.50" y="1025.00" width="3.70" height="13.50" stroke="#000" stroke-width="0" fill="#fff" rx="0"/>
<path d="M1168.7,1018 L1157.5,1018 Q1155,1018 1155,1021 L1155,1042 Q1155,1045 1157.5,1045 L1168.7,1045" stroke="#000" stroke-width="2.4" fill="#fff" />
<line x1="1155.00" y1="1024.50" x2="1174.00" y2="1024.50" stroke="#000" stroke-width="1.8" />
<line x1="1155.00" y1="1029.30" x2="1174.00" y2="1029.30" stroke="#000" stroke-width="1.6" />
<line x1="1155.00" y1="1034.00" x2="1174.00" y2="1034.00" stroke="#000" stroke-width="1.6" />
<line x1="1155.00" y1="1038.90" x2="1174.00" y2="1038.90" stroke="#000" stroke-width="1.8" />
<rect x="1161.00" y="1030.30" width="12.00" height="2.70" stroke="#000" stroke-width="0" fill="#555" rx="0"/>
<line x1="918.00" y1="64.00" x2="1023.00" y2="64.00" stroke="#222c7a" stroke-width="1.3" />
<path d="M918.00,64.00 L935.50,60.50 L935.50,67.50 Z" fill="#222c7a" stroke="none"/>
<path d="M1023.00,64.00 L1005.50,67.50 L1005.50,60.50 Z" fill="#222c7a" stroke="none"/>
<line x1="918.00" y1="64.00" x2="918.00" y2="134.00" stroke="#222c7a" stroke-width="1.3" />
<line x1="1023.00" y1="64.00" x2="1023.00" y2="134.00" stroke="#222c7a" stroke-width="1.3" />
<text x="970" y="62" font-size="28" text-anchor="middle" fill="#000" textLength="47.6" lengthAdjust="spacingAndGlyphs">Φ43</text>
<line x1="508.00" y1="440.00" x2="784.50" y2="440.00" stroke="#222c7a" stroke-width="1.3" />
<path d="M508.00,440.00 L525.50,436.50 L525.50,443.50 Z" fill="#222c7a" stroke="none"/>
<path d="M784.50,440.00 L767.00,443.50 L767.00,436.50 Z" fill="#222c7a" stroke="none"/>
<line x1="508.00" y1="440.00" x2="508.00" y2="521.00" stroke="#222c7a" stroke-width="1.3" />
<line x1="784.50" y1="440.00" x2="784.50" y2="521.00" stroke="#222c7a" stroke-width="1.3" />
<text x="646.3" y="439.8" font-size="28" text-anchor="middle" fill="#000" textLength="64.7" lengthAdjust="spacingAndGlyphs">Φ114</text>
<line x1="291.00" y1="532.00" x2="291.00" y2="1294.40" stroke="#222c7a" stroke-width="1.3" />
<path d="M291.00,532.00 L294.50,549.50 L287.50,549.50 Z" fill="#222c7a" stroke="none"/>
<path d="M291.00,1294.40 L287.50,1276.90 L294.50,1276.90 Z" fill="#222c7a" stroke="none"/>
<line x1="291.00" y1="532.00" x2="497.00" y2="532.00" stroke="#222c7a" stroke-width="1.3" />
<line x1="291.00" y1="1294.40" x2="634.00" y2="1294.40" stroke="#222c7a" stroke-width="1.3" />
<text x="290.5" y="913.4" font-size="28" text-anchor="middle" fill="#000" transform="rotate(-90 290.5 913.4)" textLength="42.6" lengthAdjust="spacingAndGlyphs">315</text>
<line x1="431.50" y1="1032.00" x2="431.50" y2="1294.40" stroke="#222c7a" stroke-width="1.3" />
<path d="M431.50,1032.00 L435.00,1049.50 L428.00,1049.50 Z" fill="#222c7a" stroke="none"/>
<path d="M431.50,1294.40 L428.00,1276.90 L435.00,1276.90 Z" fill="#222c7a" stroke="none"/>
<line x1="431.50" y1="1032.00" x2="634.40" y2="1032.00" stroke="#222c7a" stroke-width="1.3" />
<text x="430.8" y="1162.6" font-size="28" text-anchor="middle" fill="#000" transform="rotate(-90 430.8 1162.6)" textLength="41.1" lengthAdjust="spacingAndGlyphs">109</text>
<line x1="646.00" y1="1359.00" x2="1174.00" y2="1359.00" stroke="#222c7a" stroke-width="1.3" />
<path d="M646.00,1359.00 L663.50,1355.50 L663.50,1362.50 Z" fill="#222c7a" stroke="none"/>
<path d="M1174.00,1359.00 L1156.50,1362.50 L1156.50,1355.50 Z" fill="#222c7a" stroke="none"/>
<line x1="646.00" y1="1344.00" x2="646.00" y2="1359.00" stroke="#222c7a" stroke-width="1.3" />
<line x1="1174.00" y1="1113.00" x2="1174.00" y2="1359.00" stroke="#222c7a" stroke-width="1.3" />
<text x="909.2" y="1358" font-size="28" text-anchor="middle" fill="#000" textLength="43.8" lengthAdjust="spacingAndGlyphs">218</text>
<line x1="1056.50" y1="911.00" x2="1056.50" y2="1078.60" stroke="#222c7a" stroke-width="1.3" />
<path d="M1056.50,984.60 L1060.00,1002.10 L1053.00,1002.10 Z" fill="#222c7a" stroke="none"/>
<path d="M1056.50,1078.60 L1053.00,1061.10 L1060.00,1061.10 Z" fill="#222c7a" stroke="none"/>
<text x="1055.8" y="936" font-size="28" text-anchor="middle" fill="#000" transform="rotate(-90 1055.8 936)" textLength="49.5" lengthAdjust="spacingAndGlyphs">Φ39</text>
<line x1="646.00" y1="494.50" x2="646.00" y2="1333.00" stroke="#111" stroke-width="1.5" stroke-dasharray="30 6 1.5 6" stroke-dashoffset="10"/>
<line x1="645.60" y1="1032.00" x2="1227.00" y2="1032.00" stroke="#111" stroke-width="1.5" stroke-dasharray="30 6 1.5 6" stroke-dashoffset="7"/>
</svg></body></html>
